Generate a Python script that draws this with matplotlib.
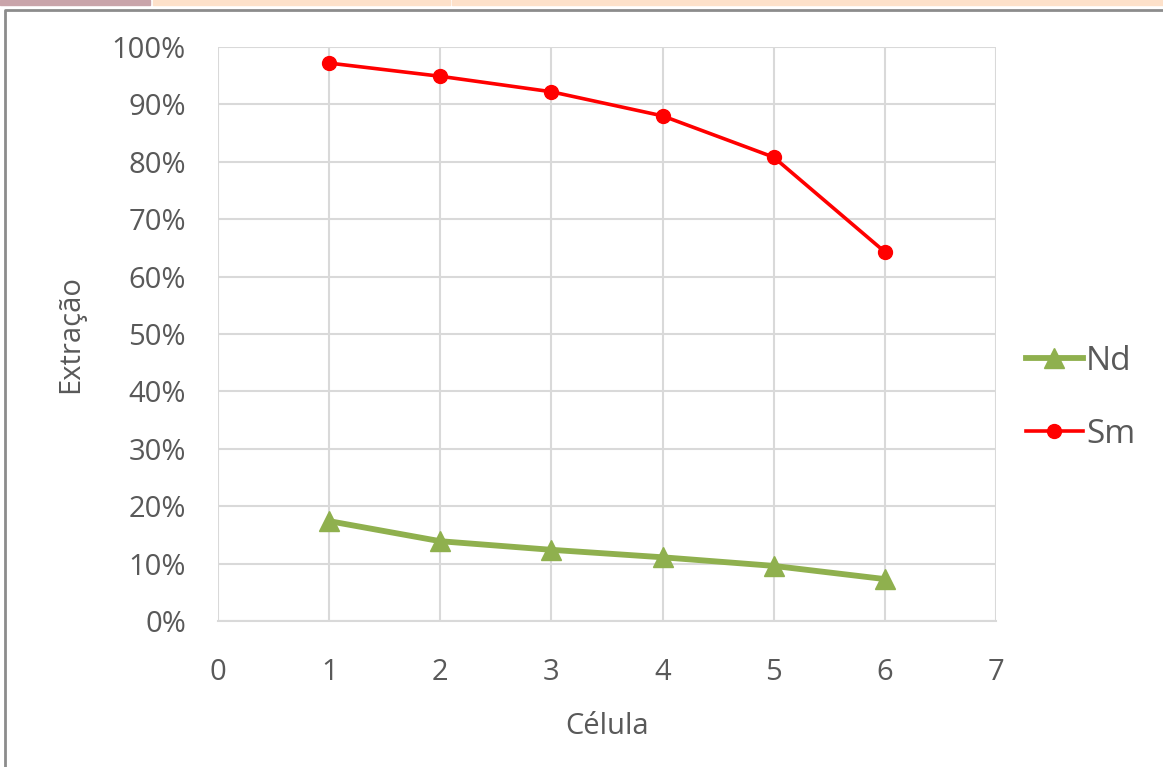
import matplotlib.pyplot as plt
from matplotlib.lines import Line2D
from matplotlib.patches import Rectangle
from matplotlib.ticker import PercentFormatter

celula = [1, 2, 3, 4, 5, 6]
nd = [0.174, 0.139, 0.124, 0.111, 0.096, 0.073]
sm = [0.972, 0.949, 0.922, 0.880, 0.808, 0.643]

x_ticks = [0, 1, 2, 3, 4, 5, 6, 7]
y_ticks = [0, 0.1, 0.2, 0.3, 0.4, 0.5, 0.6, 0.7, 0.8, 0.9, 1.0]

plt.rcParams['font.family'] = ['Open Sans', 'DejaVu Sans']
txt = '#595959'
grid = '#d9d9d9'

fig = plt.figure(figsize=(11.63, 7.67), dpi=100)

# screenshot frame bits
fig.patches.append(Rectangle((0, 1 - 5/767), 150/1163, 5/767, transform=fig.transFigure,
                             color='#c9a4aa', zorder=0))
fig.patches.append(Rectangle((153/1163, 1 - 5/767), 297/1163, 5/767, transform=fig.transFigure,
                             color='#fde1ca', zorder=0))
fig.patches.append(Rectangle((452/1163, 1 - 5/767), 711/1163, 5/767, transform=fig.transFigure,
                             color='#fde1ca', zorder=0))
fig.lines.append(Line2D([5/1163, 5/1163, 1], [0, 1 - 10/767, 1 - 10/767], transform=fig.transFigure,
                        color='#8c8c8c', lw=2))

ax = fig.add_axes([218/1163, 1 - 621/767, 778/1163, 574/767])

ax.plot(celula, nd, color='#8fb04e', lw=4.2, marker='^', markersize=14, label='Nd', zorder=3)
ax.plot(celula, sm, color='#ff0000', lw=2.6, marker='o', markersize=10, label='Sm', zorder=3)

ax.set_xlim(0, 7)
ax.set_ylim(0, 1.0)
ax.set_xticks(x_ticks)
ax.set_yticks(y_ticks)
ax.yaxis.set_major_formatter(PercentFormatter(1.0, decimals=0))
ax.grid(True, color=grid, lw=1.5)
ax.set_axisbelow(True)
for s in ['top', 'right', 'left']:
    ax.spines[s].set_visible(False)
ax.spines['bottom'].set_color(grid)
ax.spines['bottom'].set_linewidth(1.5)
ax.tick_params(length=0, labelsize=21, colors=txt)
ax.tick_params(axis='y', pad=23)
ax.tick_params(axis='x', pad=27)

ax.set_xlabel('Célula', fontsize=21, color=txt, labelpad=18)
ax.set_ylabel('Extração', fontsize=21, color=txt, labelpad=19)

ax.legend(loc='center left', bbox_to_anchor=(1.0, 0.389), frameon=False, fontsize=24,
          labelcolor=txt, handlelength=1.7, handletextpad=0.1, labelspacing=1.2)

fig.savefig('out.png', dpi=100)
